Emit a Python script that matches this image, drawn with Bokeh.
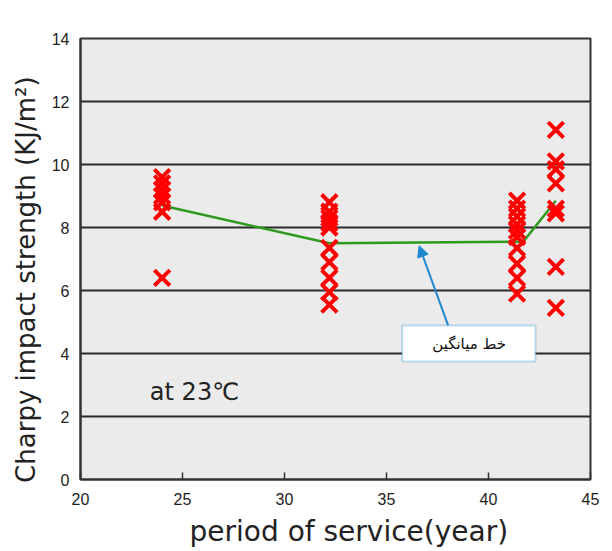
from bokeh.plotting import figure
from bokeh.models import Range1d, Arrow, NormalHead, BoxAnnotation, Label
from bokeh.embed import file_html
from bokeh.resources import INLINE

# ---- data ----
years_24 = [24.0] * 7
vals_24 = [9.6, 9.4, 9.2, 9.0, 8.8, 8.5, 6.4]
years_32 = [32.2] * 10
vals_32 = [8.8, 8.5, 8.3, 8.15, 8.0, 7.35, 6.9, 6.4, 5.95, 5.55]
years_41 = [41.4] * 10
vals_41 = [8.85, 8.6, 8.35, 8.1, 7.9, 7.7, 7.35, 6.85, 6.4, 5.9]
years_43 = [43.3] * 8
vals_43 = [11.1, 10.1, 9.85, 9.4, 8.6, 8.45, 6.75, 5.45]

mean_years = [24.0, 32.2, 41.7, 43.3]
mean_vals = [8.7, 7.5, 7.55, 8.85]

x_ticks = [20, 25, 30, 35, 40, 45]
y_ticks = [0, 2, 4, 6, 8, 10, 12, 14]

p = figure(width=604, height=551, output_backend="svg", toolbar_location=None,
           x_range=Range1d(20, 45), y_range=Range1d(0, 14),
           min_border_left=80, min_border_right=14, min_border_top=38, min_border_bottom=72,
           background_fill_color="#ebebeb", border_fill_color="white")

p.outline_line_color = "#333333"
p.outline_line_width = 2

p.xgrid.grid_line_color = None
p.ygrid.grid_line_color = "#2b2b2b"
p.ygrid.grid_line_width = 2

p.xaxis.ticker = x_ticks
p.yaxis.ticker = y_ticks

for ax in (p.xaxis, p.yaxis):
    ax.axis_line_color = "#333333"
    ax.axis_line_width = 2
    ax.major_tick_line_color = "#333333"
    ax.major_tick_line_width = 1.5
    ax.minor_tick_line_color = None
    ax.major_label_text_font = "Liberation Sans"
    ax.major_label_text_font_size = "16px"
    ax.major_label_text_color = "#222222"
    ax.axis_label_text_font = "DejaVu Sans"
    ax.axis_label_text_font_style = "normal"
    ax.axis_label_text_color = "#222222"

p.xaxis.major_tick_in = 7
p.xaxis.major_tick_out = 0
p.yaxis.major_tick_in = 0
p.yaxis.major_tick_out = 0
p.xaxis.major_label_standoff = 13
p.yaxis.major_label_standoff = 11

p.xaxis.axis_label = "\u00a0\u00a0\u00a0period of service(year)"
p.xaxis.axis_label_text_font_size = "28px"
p.xaxis.axis_label_standoff = 7
p.yaxis.axis_label = "Charpy impact strength  (KJ/m²)\u00a0\u00a0\u00a0\u00a0"
p.yaxis.axis_label_text_font_size = "26px"
p.yaxis.axis_label_standoff = 8

# mean line
p.line(mean_years, mean_vals, line_color="#2e9a1e", line_width=2.5)

# markers
for xs, ys in ((years_24, vals_24), (years_32, vals_32), (years_41, vals_41), (years_43, vals_43)):
    p.scatter(xs, ys, marker="x", size=22, line_color="#ff0000", line_width=4)

# temperature note
p.add_layout(Label(x=23.4, y=2.78, text="at 23℃", text_font="DejaVu Sans",
                   text_font_size="24px", text_color="#222222", text_baseline="middle"))

# annotation box + arrow
p.add_layout(BoxAnnotation(left=35.77, right=42.3, bottom=3.75, top=4.89,
                           fill_color="white", fill_alpha=1.0,
                           line_color="#2a8fd0", line_width=2))
p.add_layout(Label(x=39.05, y=4.3, text="خط میانگین", text_font="DejaVu Sans",
                   text_font_size="15px", text_color="#111111",
                   text_align="center", text_baseline="middle"))
p.add_layout(Arrow(x_start=38.02, y_start=4.89, x_end=36.6, y_end=7.42,
                   line_color="#1e88d0", line_width=2,
                   end=NormalHead(size=11, fill_color="#1e88d0", line_color="#1e88d0")))

open("out.html", "w").write(file_html(p, INLINE))
